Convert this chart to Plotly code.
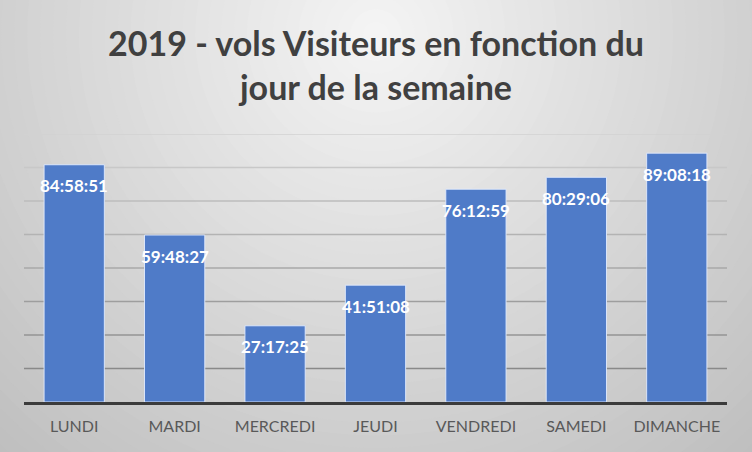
import plotly.graph_objects as go

# ---- data ----
days = ["LUNDI", "MARDI", "MERCREDI", "JEUDI", "VENDREDI", "SAMEDI", "DIMANCHE"]
durations = ["84:58:51", "59:48:27", "27:17:25", "41:51:08", "76:12:59", "80:29:06", "89:08:18"]
grid_ticks = [0, 12, 24, 36, 48, 60, 72, 84, 96]
title_text = "2019 - vols Visiteurs en fonction du<br>jour de la semaine"


def to_hours(s):
    h, m, sec = (int(p) for p in s.split(":"))
    return h + m / 60 + sec / 3600


hours = [to_hours(d) for d in durations]

W, H = 752, 452
ML, MR, MT, MB = 24, 25, 134, 50
PW, PH = W - ML - MR, H - MT - MB

FONT = "Lato, Carlito, Calibri, sans-serif"

fig = go.Figure()
fig.add_trace(go.Bar(
    x=days, y=hours,
    marker=dict(color="#4f7bc8", line=dict(color="rgba(225,235,255,0.9)", width=1)),
    hoverinfo="skip",
))

shapes = []
# radial background gradient (pixel -> paper conversion)
cx_px, cy_px = 376, 35
N = 48
rmax = 620
for i in range(N):
    r = rmax * (1 - i / N)
    t = r / 376.0
    c = int(round(max(190, min(245, 245 - 36 * t))))
    col = f"rgb({c},{c},{c})"
    x0 = (cx_px - r - ML) / PW
    x1 = (cx_px + r - ML) / PW
    y0 = (H - MB - (cy_px + r)) / PH
    y1 = (H - MB - (cy_px - r)) / PH
    shapes.append(dict(type="circle", xref="paper", yref="paper",
                       x0=x0, x1=x1, y0=y0, y1=y1,
                       fillcolor=col, line=dict(width=0), layer="below"))

# gridlines from tick values with graded tone
top = grid_ticks[-1]
for v in grid_ticks[1:]:
    f = v / top
    c = int(round(127 + (210 - 127) * f))
    shapes.append(dict(type="line", xref="paper", yref="y",
                       x0=0, x1=1, y0=v, y1=v,
                       line=dict(color=f"rgb({c},{c},{c})", width=1.5), layer="below"))

annotations = []
for d, hv, s in zip(days, hours, durations):
    annotations.append(dict(x=d, y=hv, xref="x", yref="y", text=f"<b>{s}</b>",
                            showarrow=False, yshift=-21, yanchor="middle",
                            font=dict(family=FONT, size=17, color="white")))

fig.update_layout(
    width=W, height=H,
    margin=dict(l=ML, r=MR, t=MT, b=MB),
    paper_bgcolor="#d0d0d0",
    plot_bgcolor="rgba(0,0,0,0)",
    bargap=0.4,
    showlegend=False,
    title=dict(text=f"<b>{title_text}</b>", x=0.5, xanchor="center",
               y=0.877, yanchor="top", yref="container",
               font=dict(family=FONT, size=34, color="#404040")),
    shapes=shapes,
    annotations=annotations,
    xaxis=dict(showline=True, linecolor="#3b3b3b", linewidth=2.5,
               ticks="outside", ticklen=8, tickcolor="rgba(0,0,0,0)",
               tickfont=dict(family=FONT, size=16, color="#595959"),
               showgrid=False, fixedrange=True),
    yaxis=dict(range=[0, 96], showgrid=False, zeroline=False,
               showticklabels=False, ticks="", tickvals=grid_ticks, fixedrange=True),
)

fig.write_html("out.html", config={"displayModeBar": False},
               post_script="document.body.style.margin='0';document.body.style.overflow='hidden';")
